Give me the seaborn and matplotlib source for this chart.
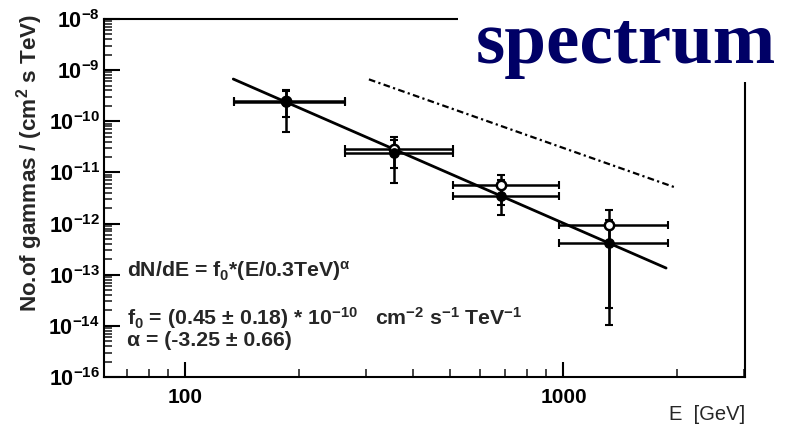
import matplotlib
matplotlib.use("Agg")
import matplotlib.pyplot as plt
import seaborn as sns
import numpy as np
import pandas as pd
from matplotlib.patches import Rectangle
from matplotlib.ticker import LogLocator, FixedLocator, FixedFormatter, NullFormatter

# ---- data ----
energy = [185, 356, 684, 1322]
e_low = [135, 264, 509, 975]
e_high = [264, 509, 975, 1888]

flux_filled = [2.4e-10, 2.4e-11, 3.5e-12, 4.2e-13]
filled_lo = [6.2e-11, 6.1e-12, 1.5e-12, 1.04e-14]
filled_hi = [3.9e-10, 4.3e-11, 7.0e-12, 1.2e-12]

flux_open = [2.5e-10, 2.9e-11, 5.7e-12, 9.4e-13]
open_lo = [1.2e-10, 1.2e-11, 2.3e-12, 2.26e-14]
open_hi = [4.0e-10, 5.0e-11, 8.9e-12, 1.84e-12]

fit_E = [134, 1868]
fit_flux = [6.7e-10, 1.35e-13]

ref_E = [306, 1988]
ref_flux = [6.6e-10, 5.0e-12]

ytick_vals = [1e-8, 1e-9, 1e-10, 1e-11, 1e-12, 1e-13, 1e-14, 1e-15]
ytick_labels = ["$10^{-8}$", "$10^{-9}$", "$10^{-10}$", "$10^{-11}$",
                "$10^{-12}$", "$10^{-13}$", "$10^{-14}$", "$10^{-16}$"]
xtick_vals = [100, 1000]
xtick_labels = ["100", "1000"]

# ---- style ----
sns.set_style("ticks")
plt.rcParams["font.family"] = ["Liberation Sans", "DejaVu Sans"]
plt.rcParams["mathtext.fontset"] = "custom"
plt.rcParams["mathtext.rm"] = "Liberation Sans:bold"
plt.rcParams["mathtext.bf"] = "Liberation Sans:bold"
plt.rcParams["mathtext.it"] = "Liberation Sans:bold"
plt.rcParams["mathtext.default"] = "bf"

fig = plt.figure(figsize=(7.9, 4.34), dpi=100)
ax = fig.add_axes([104/790, 1-377/434, (745-104)/790, (377-19)/434])
ax.set_xscale("log")
ax.set_yscale("log")

df_fit = pd.DataFrame({"E": fit_E, "flux": fit_flux})
df_ref = pd.DataFrame({"E": ref_E, "flux": ref_flux})
sns.lineplot(data=df_fit, x="E", y="flux", ax=ax, color="black", lw=2.0, zorder=2)
sns.lineplot(data=df_ref, x="E", y="flux", ax=ax, color="black", lw=1.6,
             linestyle=(0, (3, 1.5, 1, 1.5)), zorder=2)

E = np.array(energy)
xerr = [E - np.array(e_low), np.array(e_high) - E]
ff = np.array(flux_filled)
fo = np.array(flux_open)
ax.errorbar(E, fo, xerr=xerr, yerr=[fo - np.array(open_lo), np.array(open_hi) - fo],
            fmt="none", ecolor="black", elinewidth=1.8, capsize=3, capthick=1.5, zorder=3)
ax.errorbar(E, ff, xerr=xerr, yerr=[ff - np.array(filled_lo), np.array(filled_hi) - ff],
            fmt="none", ecolor="black", elinewidth=1.8, capsize=3, capthick=1.5, zorder=3)

df_o = pd.DataFrame({"E": energy, "flux": flux_open})
df_f = pd.DataFrame({"E": energy, "flux": flux_filled})
sns.scatterplot(data=df_o, x="E", y="flux", ax=ax, marker="o", s=45,
                facecolor="white", edgecolor="black", linewidth=1.8, zorder=4)
sns.scatterplot(data=df_f, x="E", y="flux", ax=ax, marker="o", s=45,
                color="black", edgecolor="black", linewidth=1, zorder=5)

ax.set_xlim(61, 3020)
ax.set_ylim(1e-15, 1e-8)

ax.yaxis.set_major_locator(FixedLocator(ytick_vals))
ax.yaxis.set_major_formatter(FixedFormatter(ytick_labels))
ax.yaxis.set_minor_locator(LogLocator(base=10, subs=np.arange(2, 10), numticks=20))
ax.yaxis.set_minor_formatter(NullFormatter())
ax.xaxis.set_major_locator(FixedLocator(xtick_vals))
ax.xaxis.set_major_formatter(FixedFormatter(xtick_labels))
ax.xaxis.set_minor_locator(LogLocator(base=10, subs=np.arange(2, 10), numticks=20))
ax.xaxis.set_minor_formatter(NullFormatter())

ax.tick_params(axis="y", which="major", direction="in", length=11.5, width=1.5,
               labelsize=15.5, colors="black", pad=3)
ax.tick_params(axis="y", which="minor", direction="in", length=6, width=1.2)
ax.tick_params(axis="x", which="major", direction="in", length=11, width=1.5,
               labelsize=15, colors="black", pad=8)
ax.tick_params(axis="x", which="minor", direction="in", length=5.5, width=1.2)
ax.tick_params(top=False, right=False, which="both")
for lab in ax.get_xticklabels() + ax.get_yticklabels():
    lab.set_fontweight("bold")
for sp in ax.spines.values():
    sp.set_visible(True)
    sp.set_linewidth(1.5)
    sp.set_color("black")

ax.set_xlabel("")
ax.set_ylabel("")

fig.text(30/790, 1-163/434, "No.of gammas / (cm$^{2}$ s TeV)", rotation=90,
         ha="center", va="center", fontsize=16.2, fontweight="bold")
fig.text(745/790, 1-415/434, "E  [GeV]", ha="right", va="center", fontsize=14.5)

tf = dict(transform=fig.transFigure, fontsize=15.3, fontweight="bold", ha="left", va="center")
fig.text(127/790, 1-271/434, "dN/dE = f$_{0}$*(E/0.3TeV)$^{α}$", **tf)
fig.text(127/790, 1-318/434,
         "f$_{0}$ = (0.45 ± 0.18) * 10$^{-10}$   cm$^{-2}$ s$^{-1}$ TeV$^{-1}$", **tf)
fig.text(127/790, 1-341/434, "α = (-3.25 ± 0.66)", **tf)

# white title box covering the frame corner
fig.add_artist(Rectangle((458/790, 1-82/434), 1-458/790, 82/434,
                         transform=fig.transFigure, facecolor="white",
                         edgecolor="none", zorder=10))
fig.text(626/790, 1-45/434, "spectrum", ha="center", va="center",
         fontsize=54, fontweight="bold", family="Liberation Serif",
         color="#000066", zorder=11)

fig.savefig("out.png", dpi=100)
